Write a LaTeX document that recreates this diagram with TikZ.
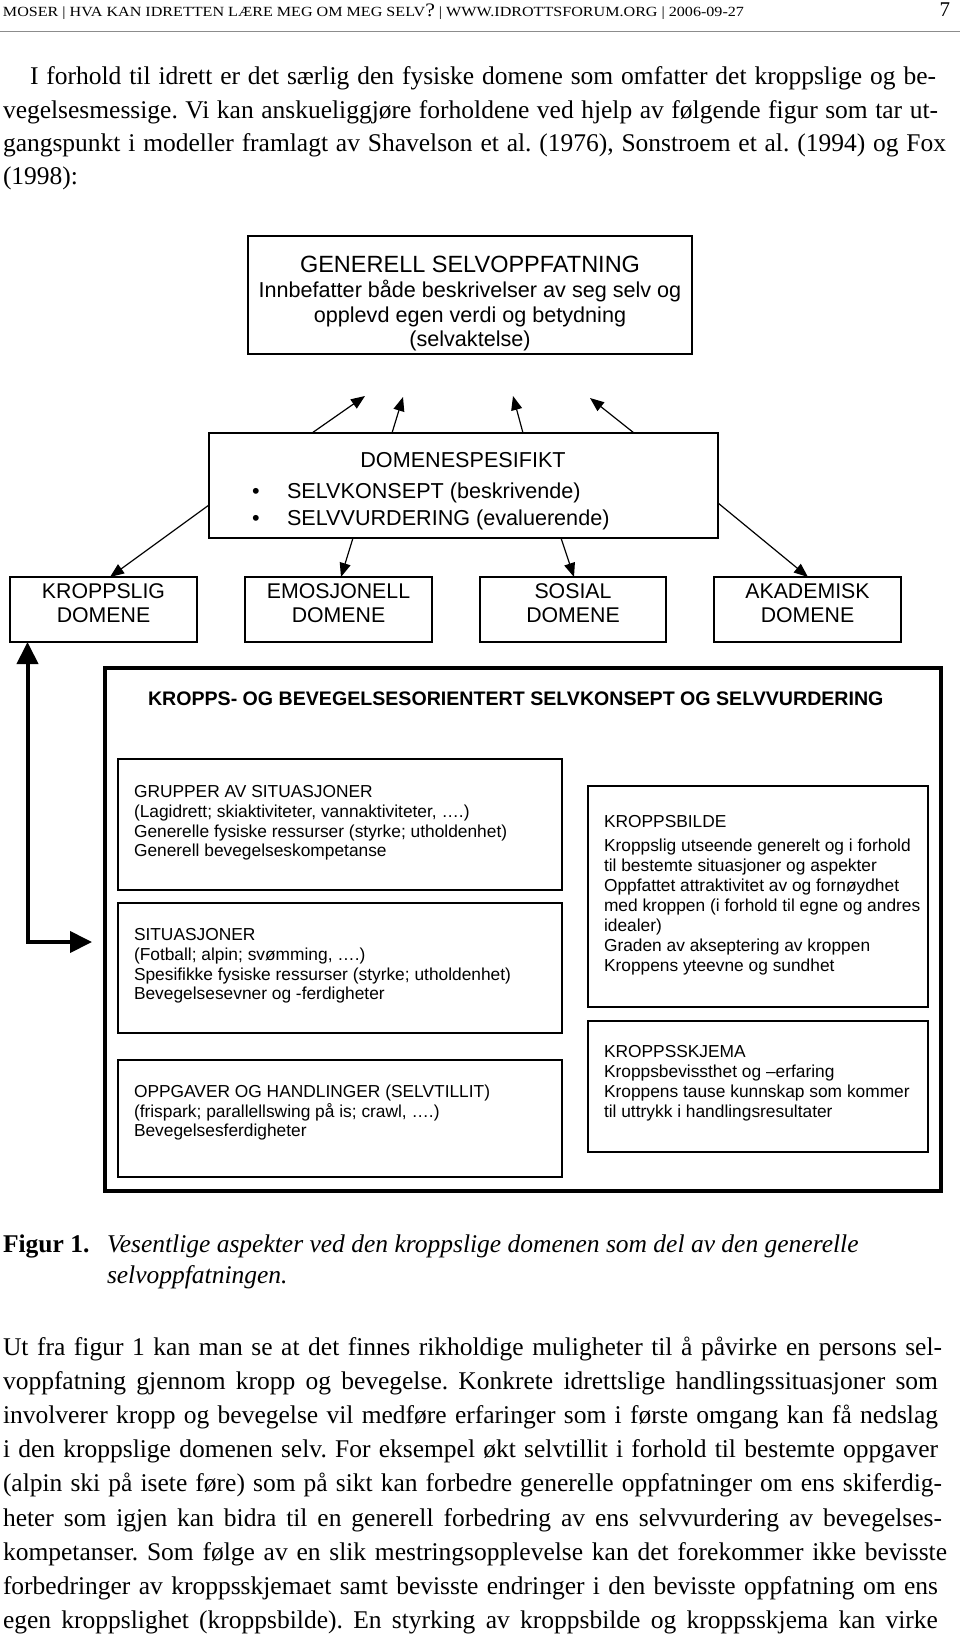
\documentclass[tikz,border=0pt]{standalone}
\usepackage{fontspec}
\setmainfont{Liberation Serif}
\newfontfamily\bodyfont{Liberation Serif}
\newfontfamily\hdrfont{Liberation Serif}
\newfontfamily\diafont{Liberation Sans}
\usetikzlibrary{arrows.meta}
\frenchspacing
\tikzset{
 frame/.style={draw=black, line width=1.5pt, inner sep=0pt, outer sep=0pt, anchor=north west},
 bigframe/.style={draw=black, line width=4pt, inner sep=0pt, outer sep=0pt, anchor=north west},
 txt/.style={inner sep=0pt, outer sep=0pt},
 ctr/.style={txt, anchor=base},
 lft/.style={txt, anchor=base west},
 gtitle/.style={ctr, font=\diafont\fontsize{23.5}{28}\selectfont},
 gline/.style={ctr, font=\diafont\fontsize{21.6}{26}\selectfont},
 dline/.style={lft, font=\diafont\fontsize{21.6}{26}\selectfont},
 dtitle/.style={ctr, font=\diafont\fontsize{21.6}{26}\selectfont},
 domtxt/.style={ctr, font=\diafont\fontsize{21.3}{26}\selectfont},
 headtxt/.style={lft, font=\diafont\bfseries\fontsize{19.6}{23}\selectfont},
 inner/.style={lft, font=\diafont\fontsize{17.35}{20}\selectfont},
 body/.style={lft, font=\bodyfont\frenchspacing\fontsize{25.5}{30}\selectfont},
 capb/.style={lft, font=\bodyfont\bfseries\fontsize{25.5}{30}\selectfont},
 capi/.style={lft, font=\bodyfont\itshape\fontsize{25.5}{30}\selectfont},
 arr/.style={-{Triangle[length=14pt,width=11pt]}, line width=1.2pt},
 bigarr/.style={{Triangle[length=22pt,width=21pt]}-{Triangle[length=22pt,width=21pt]}, line width=4pt},
}
\begin{document}
\begin{tikzpicture}[x=1pt,y=-1pt]
\useasboundingbox (0,0) rectangle (960,1640);
\fill[white] (0,0) rectangle (960,1640);

% ---------- running head ----------
\node[lft] (hdr) at (3,16.5) {\resizebox{741pt}{\height}{\hdrfont\fontsize{14}{16}\selectfont MOSER | HVA KAN IDRETTEN LÆRE MEG OM MEG SELV{\fontsize{19}{19}\selectfont ?} | WWW.IDROTTSFORUM.ORG | 2006-09-27}};
\node[txt, anchor=base east] (pg) at (950,16.5) {\hdrfont\fontsize{21}{21}\selectfont 7};
\draw[black!45, line width=1.2pt] (0,31.5) -- (960,31.5);

% ---------- first paragraph ----------
\node[body] (p1) at (30,85) {\makebox[906pt][s]{I forhold til idrett er det særlig den fysiske domene som omfatter det kroppslige og be-}};
\node[body] (p2) at (3,118.5) {\makebox[935pt][s]{vegelsesmessige. Vi kan anskueliggjøre forholdene ved hjelp av følgende figur som tar ut-}};
\node[body] (p3) at (3,152) {\makebox[943pt][s]{gangspunkt i modeller framlagt av Shavelson et al. (1976), Sonstroem et al. (1994) og Fox}};
\node[body] (p4) at (3,185) {(1998):};

% ---------- diagram boxes ----------
\node[frame, minimum width=444pt, minimum height=118pt] (gen) at (248,236) {};
\node[frame, minimum width=509pt, minimum height=105pt] (dom) at (209,433) {};
\node[frame, minimum width=187pt, minimum height=65pt] (kro) at (10,577) {};
\node[frame, minimum width=187pt, minimum height=65pt] (emo) at (245,577) {};
\node[frame, minimum width=186pt, minimum height=65pt] (sos) at (480,577) {};
\node[frame, minimum width=187pt, minimum height=65pt] (aka) at (714,577) {};
\node[bigframe, minimum width=836pt, minimum height=523pt] (big) at (105,668) {};
\node[frame, minimum width=444pt, minimum height=131pt] (grp) at (118,759) {};
\node[frame, minimum width=444pt, minimum height=130pt] (sit) at (118,903) {};
\node[frame, minimum width=444pt, minimum height=117pt] (opp) at (118,1060) {};
\node[frame, minimum width=340pt, minimum height=221pt] (kbi) at (588,786) {};
\node[frame, minimum width=340pt, minimum height=131pt] (ksk) at (588,1021) {};

% ---------- diagram texts ----------
\node[gtitle] (g1) at (470,272) {GENERELL SELVOPPFATNING};
\node[gline] (g2) at (470,297.5) {Innbefatter både beskrivelser av seg selv og};
\node[gline] (g3) at (470,322) {opplevd egen verdi og betydning};
\node[gline] (g4) at (470,346) {(selvaktelse)};

\node[dtitle] (d1) at (463,467) {DOMENESPESIFIKT};
\node[dline] (db1) at (252,498) {•};
\node[dline] (d2) at (287,498) {SELVKONSEPT (beskrivende)};
\node[dline] (db2) at (252,525) {•};
\node[dline] (d3) at (287,525) {SELVVURDERING (evaluerende)};

\node[domtxt] (k1) at (103.5,598) {KROPPSLIG};
\node[domtxt] (k2) at (103.5,622.5) {DOMENE};
\node[domtxt] (e1) at (338.5,598) {EMOSJONELL};
\node[domtxt] (e2) at (338.5,622.5) {DOMENE};
\node[domtxt] (s1) at (573,598) {SOSIAL};
\node[domtxt] (s2) at (573,622.5) {DOMENE};
\node[domtxt] (a1) at (807.5,598) {AKADEMISK};
\node[domtxt] (a2) at (807.5,622.5) {DOMENE};

\node[headtxt] (h1) at (148,705) {KROPPS- OG BEVEGELSESORIENTERT SELVKONSEPT OG SELVVURDERING};

\node[inner] (gr1) at (134,797) {GRUPPER AV SITUASJONER};
\node[inner] (gr2) at (134,817) {(Lagidrett; skiaktiviteter, vannaktiviteter, ….)};
\node[inner] (gr3) at (134,837) {Generelle fysiske ressurser (styrke; utholdenhet)};
\node[inner] (gr4) at (134,856.5) {Generell bevegelseskompetanse};

\node[inner] (si1) at (134,940) {SITUASJONER};
\node[inner] (si2) at (134,960) {(Fotball; alpin; svømming, ….)};
\node[inner] (si3) at (134,980) {Spesifikke fysiske ressurser (styrke; utholdenhet)};
\node[inner] (si4) at (134,999.5) {Bevegelsesevner og -ferdigheter};

\node[inner] (op1) at (134,1097) {OPPGAVER OG HANDLINGER (SELVTILLIT)};
\node[inner] (op2) at (134,1117) {(frispark; parallellswing på is; crawl, ….)};
\node[inner] (op3) at (134,1136.5) {Bevegelsesferdigheter};

\node[inner] (kb1) at (604,827) {KROPPSBILDE};
\node[inner] (kb2) at (604,851) {Kroppslig utseende generelt og i forhold};
\node[inner] (kb3) at (604,871) {til bestemte situasjoner og aspekter};
\node[inner] (kb4) at (604,891.5) {Oppfattet attraktivitet av og fornøydhet};
\node[inner] (kb5) at (604,911.5) {med kroppen (i forhold til egne og andres};
\node[inner] (kb6) at (604,931.5) {idealer)};
\node[inner] (kb7) at (604,951.5) {Graden av akseptering av kroppen};
\node[inner] (kb8) at (604,971.5) {Kroppens yteevne og sundhet};

\node[inner] (ks1) at (604,1057) {KROPPSSKJEMA};
\node[inner] (ks2) at (604,1077) {Kroppsbevissthet og –erfaring};
\node[inner] (ks3) at (604,1097) {Kroppens tause kunnskap som kommer};
\node[inner] (ks4) at (604,1117) {til uttrykk i handlingsresultater};

% ---------- connectors ----------
\coordinate (t1) at (365,396);
\coordinate (t2) at (403,397);
\coordinate (t3) at (513,396);
\coordinate (t4) at (590,398);
\draw[arr] ([xshift=103pt]dom.north west) -- (t1);
\draw[arr] ([xshift=183pt]dom.north west) -- (t2);
\draw[arr] ([xshift=314pt]dom.north west) -- (t3);
\draw[arr] ([xshift=425pt]dom.north west) -- (t4);

\draw[arr] ([yshift=-72pt]dom.north west) -- ([xshift=100pt]kro.north west);
\draw[arr] ([xshift=144pt]dom.south west) -- ([xshift=96pt]emo.north west);
\draw[arr] ([xshift=352pt]dom.south west) -- ([xshift=94pt]sos.north west);
\draw[arr] ([yshift=-70pt]dom.north east) -- ([xshift=94pt]aka.north west);

\coordinate (armcorner) at (27.5,942);
\coordinate (armtip) at (92,942);
\draw[bigarr] (kro.south -| armcorner) -- (armcorner) -- (armtip);

% ---------- caption ----------
\node[capb] (cap0) at (3,1252) {Figur 1.};
\node[capi] (cap1) at (107,1252) {Vesentlige aspekter ved den kroppslige domenen som del av den generelle};
\node[capi] (cap2) at (107,1283) {selvoppfatningen.};

% ---------- body paragraph ----------
\node[body] (b1) at (3,1355) {\makebox[939pt][s]{Ut fra figur 1 kan man se at det finnes rikholdige muligheter til å påvirke en persons sel-}};
\node[body] (b2) at (3,1389.2) {\makebox[935pt][s]{voppfatning gjennom kropp og bevegelse. Konkrete idrettslige handlingssituasjoner som}};
\node[body] (b3) at (3,1423.4) {\makebox[935pt][s]{involverer kropp og bevegelse vil medføre erfaringer som i første omgang kan få nedslag}};
\node[body] (b4) at (3,1457.6) {\makebox[935pt][s]{i den kroppslige domenen selv. For eksempel økt selvtillit i forhold til bestemte oppgaver}};
\node[body] (b5) at (3,1491.8) {\makebox[939pt][s]{(alpin ski på isete føre) som på sikt kan forbedre generelle oppfatninger om ens skiferdig-}};
\node[body] (b6) at (3,1526) {\makebox[939pt][s]{heter som igjen kan bidra til en generell forbedring av ens selvvurdering av bevegelses-}};
\node[body] (b7) at (3,1560.2) {\makebox[944pt][s]{kompetanser. Som følge av en slik mestringsopplevelse kan det forekommer ikke bevisste}};
\node[body] (b8) at (3,1594.4) {\makebox[935pt][s]{forbedringer av kroppsskjemaet samt bevisste endringer i den bevisste oppfatning om ens}};
\node[body] (b9) at (3,1628.6) {\makebox[935pt][s]{egen kroppslighet (kroppsbilde). En styrking av kroppsbilde og kroppsskjema kan virke}};
\end{tikzpicture}
\end{document}
